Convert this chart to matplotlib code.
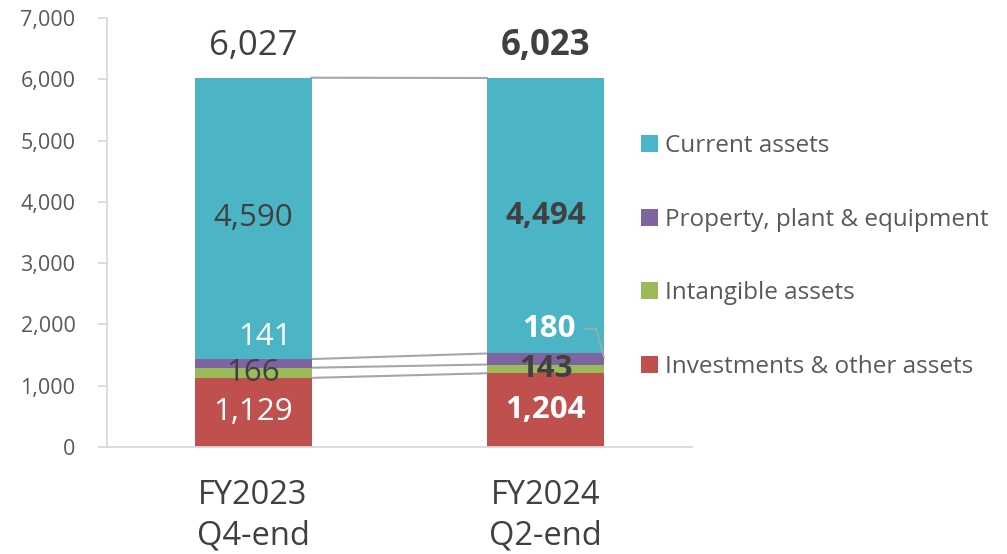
import matplotlib.pyplot as plt
import numpy as np

plt.rcParams['font.family'] = ['Open Sans', 'DejaVu Sans']

# data
periods = ['FY2023\nQ4-end', 'FY2024\nQ2-end']
series = ['Investments & other assets', 'Intangible assets',
          'Property, plant & equipment', 'Current assets']
investments = [1129, 1204]
intangible = [166, 143]
ppe = [141, 180]
current = [4590, 4494]
totals = [6027, 6023]

colors = ['#C0504D', '#9BBB59', '#8064A2', '#4BB5C5']
dark = '#404040'
grid_c = '#D9D9D9'

fig = plt.figure(figsize=(10.07, 5.54), dpi=100)
ax = fig.add_axes([0.106, 0.193, 0.581, 0.7745])

x = np.arange(len(periods))
w = 0.4
values = [investments, intangible, ppe, current]
bottoms = np.zeros(len(periods))
tops = []
for vals, col, name in zip(values, colors, series):
    ax.bar(x, vals, w, bottom=bottoms, color=col, label=name, zorder=2)
    bottoms = bottoms + np.array(vals)
    tops.append(bottoms.copy())

# connector lines between the two bars
for t in tops:
    ax.plot([x[0] + w / 2, x[1] - w / 2], [t[0], t[1]], color='#A6A6A6', lw=1.5, zorder=1)

bold = [False, True]
fs = 22.5
for i in range(len(periods)):
    fw = 'bold' if bold[i] else 'normal'
    # investments
    ax.text(x[i], investments[i] / 2, f'{investments[i]:,}', ha='center', va='center',
            color='white', fontsize=fs, fontweight=fw)
    # intangible
    ax.text(x[i], investments[i] + intangible[i] / 2, f'{intangible[i]:,}', ha='center',
            va='center', color=dark, fontsize=fs, fontweight=fw)
    # current
    ax.text(x[i], tops[2][i] + current[i] / 2, f'{current[i]:,}', ha='center', va='center',
            color=dark, fontsize=fs, fontweight=fw)
    # totals
    ax.annotate(f'{totals[i]:,}', (x[i], tops[3][i]), xytext=(0, 23), textcoords='offset points',
                ha='center', va='center', color=dark, fontsize=25, fontweight=fw)

# ppe labels placed above the thin segment
ax.annotate(f'{ppe[0]:,}', (x[0] + 0.04, tops[2][0]), xytext=(0, 16), textcoords='offset points',
            ha='center', va='center', color='white', fontsize=fs)
ax.annotate(f'{ppe[1]:,}', (x[1] + w / 2, tops[2][1] - ppe[1] * 0.4), xytext=(-40, 21),
            textcoords='offset points', ha='center', va='center', color='white',
            fontsize=fs, fontweight='bold',
            arrowprops=dict(arrowstyle='-', color='#A6A6A6', lw=1.2,
                            connectionstyle='angle,angleA=0,angleB=105,rad=0',
                            shrinkA=4, shrinkB=0))

ax.set_xlim(-0.5, 1.5)
ax.set_ylim(0, 7000)
ax.set_yticks(np.arange(0, 7001, 1000))
ax.yaxis.set_major_formatter(plt.FuncFormatter(lambda v, p: f'{int(v):,}'))
ax.set_xticks(x)
ax.set_xticklabels(periods, linespacing=1.3)

for s in ['top', 'right']:
    ax.spines[s].set_visible(False)
for s in ['left', 'bottom']:
    ax.spines[s].set_color(grid_c)
    ax.spines[s].set_linewidth(1.3)
ax.tick_params(axis='y', length=6.5, width=1.3, color=grid_c, pad=16, labelsize=15.5,
               labelcolor='#595959')
ax.tick_params(axis='x', length=0, pad=23, labelsize=23.5, labelcolor=dark)

handles, labels = ax.get_legend_handles_labels()
leg = fig.legend(handles[::-1], labels[::-1], loc='center left', bbox_to_anchor=(0.615, 0.537),
                 frameon=False, fontsize=17.5, labelspacing=2.05, handlelength=0.7,
                 handleheight=0.7, handletextpad=0.3)
for t in leg.get_texts():
    t.set_color('#595959')

fig.savefig('out.png', dpi=100)
